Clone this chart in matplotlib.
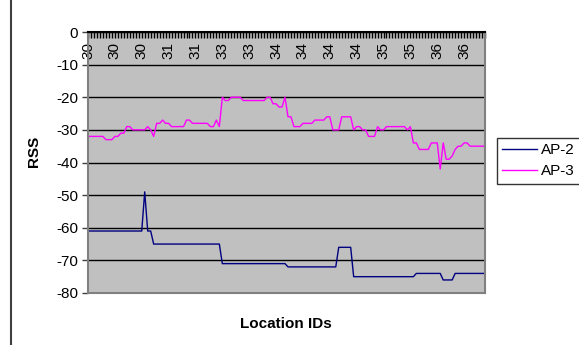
import numpy as np
import matplotlib.pyplot as plt
from matplotlib.lines import Line2D

plt.rcParams['font.family'] = ['Liberation Sans', 'DejaVu Sans']
plt.rcParams['axes.unicode_minus'] = False

# RSS readings per location sample, stored as (value, run length)
ap2_vals = [-61, -49, -61, -65, -71, -72, -66, -75, -74, -76, -74]
ap2_runs = [19, 1, 2, 23, 22, 17, 5, 21, 9, 4, 11]

ap3_vals = [-32, -33, -32, -31, -29, -30, -29, -30, -32, -28, -27, -28, -29, -27,
            -28, -29, -27, -29, -20, -21, -20, -21, -20, -22, -23, -20, -26, -29,
            -28, -27, -26, -30, -26, -30, -29, -30, -32, -29, -30, -29, -30, -29,
            -34, -36, -34, -42, -34, -39, -38, -36, -35, -34, -35]
ap3_runs = [6, 3, 2, 2, 2, 5, 1, 1, 1, 2, 1, 2, 5, 2,
            6, 2, 1, 1, 1, 2, 4, 8, 2, 2, 2, 1, 2, 3,
            4, 4, 2, 3, 4, 1, 2, 2, 3, 1, 2, 7, 1, 1,
            2, 4, 3, 1, 1, 2, 1, 1, 2, 2, 6]

ap2 = np.repeat(ap2_vals, ap2_runs)
ap3 = np.repeat(ap3_vals, ap3_runs)
x = np.arange(len(ap2))

tick_labels = ['30', '30', '30', '31', '31', '33', '33', '34', '34', '34',
               '34', '35', '35', '36', '36']
label_step = 9

W, H = 579, 345
fig = plt.figure(figsize=(W / 100, H / 100), dpi=100)
ax = fig.add_axes([88 / W, 1 - 293 / H, (485 - 88) / W, (293 - 32) / H])
ax.set_facecolor('#c0c0c0')

ax.plot(x, ap2, color='#000080', lw=1.0, label='AP-2')
ax.plot(x, ap3, color='#ff00ff', lw=1.0, label='AP-3')

ax.set_xlim(0, len(x) - 1)
ax.set_ylim(-80, 0)
ax.set_yticks(np.arange(-80, 1, 10))
ax.yaxis.grid(True, color='black', lw=1.0)
ax.set_axisbelow(True)

# category axis sits at y=0 (top)
ax.xaxis.tick_top()
ax.set_xticks(np.arange(0, len(x), label_step))
ax.set_xticks(x, minor=True)
ax.set_xticklabels(tick_labels, rotation=90, fontsize=11)
for lbl in ax.get_xticklabels():
    lbl.set_va('top')
ax.tick_params(axis='x', which='both', direction='in', length=4, width=1,
               color='black', pad=-7)
ax.tick_params(axis='y', direction='out', length=4, width=1, color='#404040',
               labelsize=11, pad=3)

for side in ['left', 'right', 'bottom']:
    ax.spines[side].set_color('#808080')
    ax.spines[side].set_linewidth(1.5)
ax.spines['top'].set_color('black')
ax.spines['top'].set_linewidth(1.5)

fig.text(34 / W, 1 - 151 / H, 'RSS', rotation=90, ha='center', va='center',
         fontsize=11, fontweight='bold')
fig.text(286 / W, 1 - 324 / H, 'Location IDs', ha='center', va='center',
         fontsize=11, fontweight='bold')

leg = fig.legend(loc='upper left', bbox_to_anchor=(497 / W, 1 - 138 / H),
                 fontsize=11, fancybox=False, edgecolor='black',
                 handlelength=2.3, handletextpad=0.2, borderpad=0.35,
                 labelspacing=0.45, borderaxespad=0)
leg.get_frame().set_linewidth(1.0)

fig.add_artist(Line2D([11 / W, 11 / W], [0, 1], color='#404040', lw=1.5))

fig.savefig('out.png', dpi=100)
